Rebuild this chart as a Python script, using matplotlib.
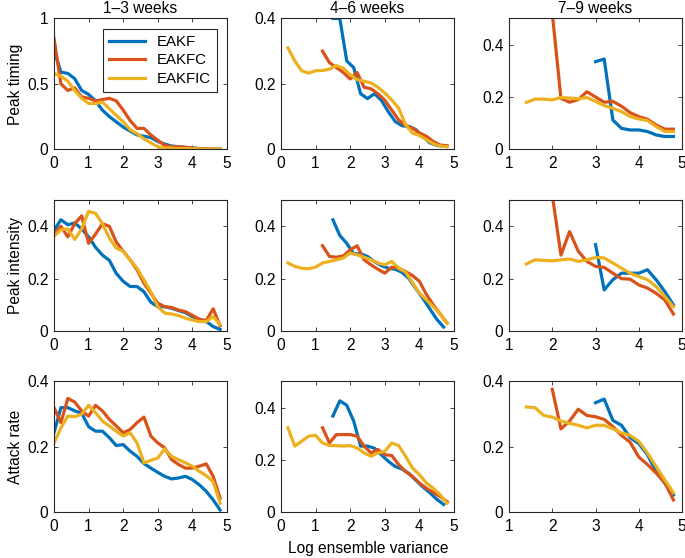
import numpy as np
import matplotlib
matplotlib.use("Agg")
import matplotlib.pyplot as plt
from matplotlib.ticker import FuncFormatter

plt.rcParams['font.family'] = ['Liberation Sans', 'DejaVu Sans']
FS = 11.2
plt.rcParams['font.size'] = FS

BLUE, RED, YELLOW = '#0072BD', '#D95319', '#EDB120'

col_titles = ['1\u20133 weeks', '4\u20136 weeks', '7\u20139 weeks']
row_labels = ['Peak timing', 'Peak intensity', 'Attack rate']
methods = ['EAKF', 'EAKFC', 'EAKFIC']

# x grids (log ensemble variance)
x_c1 = [0.0, 0.2, 0.4, 0.6, 0.8, 1.0, 1.2, 1.4, 1.6, 1.8, 2.0, 2.2, 2.4,
        2.6, 2.8, 3.0, 3.2, 3.4, 3.6, 3.8, 4.0, 4.2, 4.4, 4.6, 4.8]
x_c2_blue = [1.5, 1.7, 1.9, 2.1, 2.3, 2.5, 2.7, 2.9, 3.1, 3.3, 3.5, 3.7,
             3.9, 4.1, 4.3, 4.5, 4.7]
x_c2_red = [1.2, 1.4, 1.6, 1.8, 2.0, 2.2, 2.4, 2.6, 2.8, 3.0, 3.2, 3.4,
            3.6, 3.8, 4.0, 4.2, 4.4, 4.6, 4.8]
x_c2_yel = [0.2, 0.4, 0.6, 0.8, 1.0] + x_c2_red
x_c3_blue = [3.0, 3.2, 3.4, 3.6, 3.8, 4.0, 4.2, 4.4, 4.6, 4.8]
x_c3_red = [2.0, 2.2, 2.4, 2.6, 2.8] + x_c3_blue
x_c3_yel = [1.4, 1.6, 1.8] + x_c3_red

# Peak timing
pt1_blue = [0.76, 0.59, 0.58, 0.54, 0.45, 0.42, 0.37, 0.30, 0.25, 0.21, 0.17, 0.14, 0.11,
            0.10, 0.09, 0.06, 0.04, 0.025, 0.02, 0.015, 0.01, 0.006, 0.004, 0.002, 0.001]
pt1_red = [0.85, 0.50, 0.45, 0.47, 0.40, 0.39, 0.37, 0.38, 0.39, 0.37, 0.30, 0.22, 0.16,
           0.16, 0.11, 0.07, 0.03, 0.02, 0.02, 0.015, 0.01, 0.005, 0.003, 0.002, 0.001]
pt1_yel = [0.58, 0.56, 0.52, 0.45, 0.39, 0.35, 0.35, 0.36, 0.31, 0.26, 0.21, 0.15, 0.12,
           0.08, 0.05, 0.02, 0.01, 0.01, 0.005, 0.005, 0.004, 0.003, 0.002, 0.002, 0.001]
pt2_blue = [0.40, 0.40, 0.27, 0.25, 0.17, 0.155, 0.17, 0.15, 0.115, 0.085, 0.072, 0.07,
            0.06, 0.04, 0.02, 0.012, 0.01]
pt2_red = [0.30, 0.265, 0.25, 0.235, 0.215, 0.235, 0.19, 0.185, 0.17, 0.15, 0.12, 0.09,
           0.072, 0.065, 0.05, 0.04, 0.024, 0.013, 0.011]
pt2_yel = [0.31, 0.27, 0.24, 0.233, 0.24, 0.241, 0.245, 0.256, 0.248, 0.228, 0.213, 0.208,
           0.203, 0.19, 0.172, 0.151, 0.126, 0.075, 0.05, 0.042, 0.03, 0.017, 0.01, 0.008]
pt3_blue = [0.335, 0.345, 0.112, 0.08, 0.074, 0.074, 0.068, 0.055, 0.049, 0.049]
pt3_red = [0.52, 0.195, 0.18, 0.19, 0.22, 0.2, 0.18, 0.183, 0.165, 0.14, 0.125, 0.115,
           0.093, 0.077, 0.077]
pt3_yel = [0.179, 0.192, 0.192, 0.189, 0.198, 0.196, 0.193, 0.198, 0.183, 0.167, 0.157,
           0.144, 0.125, 0.116, 0.11, 0.087, 0.068, 0.068]

# Peak intensity
pi1_blue = [0.385, 0.425, 0.406, 0.413, 0.39, 0.36, 0.32, 0.29, 0.27, 0.22, 0.19, 0.17, 0.17,
            0.15, 0.11, 0.093, 0.093, 0.087, 0.078, 0.07, 0.055, 0.042, 0.036, 0.017, 0.006]
pi1_red = [0.37, 0.40, 0.36, 0.41, 0.44, 0.335, 0.37, 0.41, 0.40, 0.34, 0.305, 0.272, 0.234,
           0.183, 0.144, 0.106, 0.093, 0.09, 0.08, 0.074, 0.06, 0.045, 0.04, 0.085, 0.02]
pi1_yel = [0.362, 0.387, 0.39, 0.35, 0.39, 0.457, 0.45, 0.41, 0.355, 0.317, 0.305, 0.272,
           0.24, 0.195, 0.15, 0.093, 0.068, 0.065, 0.059, 0.049, 0.042, 0.036, 0.036, 0.055, 0.025]
pi2_blue = [0.425, 0.365, 0.335, 0.295, 0.295, 0.285, 0.265, 0.25, 0.24, 0.236, 0.224, 0.2,
            0.162, 0.125, 0.085, 0.045, 0.015]
pi2_red = [0.326, 0.285, 0.282, 0.287, 0.31, 0.326, 0.272, 0.253, 0.236, 0.221, 0.244, 0.24,
           0.227, 0.212, 0.19, 0.14, 0.1, 0.065, 0.03]
pi2_yel = [0.26, 0.247, 0.24, 0.238, 0.244, 0.26, 0.266, 0.272, 0.279, 0.298, 0.291, 0.282,
           0.272, 0.26, 0.253, 0.266, 0.24, 0.225, 0.185, 0.145, 0.119, 0.093, 0.065, 0.03]
pi3_blue = [0.33, 0.157, 0.196, 0.221, 0.221, 0.221, 0.234, 0.196, 0.151, 0.1]
pi3_red = [0.52, 0.29, 0.38, 0.305, 0.266, 0.247, 0.243, 0.221, 0.2, 0.198, 0.176, 0.164,
           0.144, 0.119, 0.065]
pi3_yel = [0.256, 0.272, 0.27, 0.268, 0.272, 0.275, 0.266, 0.272, 0.281, 0.279, 0.26, 0.24,
           0.221, 0.208, 0.196, 0.17, 0.132, 0.093]

# Attack rate
ar1_blue = [0.243, 0.32, 0.32, 0.31, 0.303, 0.262, 0.248, 0.248, 0.228, 0.204, 0.207, 0.187,
            0.171, 0.149, 0.135, 0.122, 0.11, 0.102, 0.105, 0.11, 0.1, 0.084, 0.064, 0.038, 0.007]
ar1_red = [0.32, 0.274, 0.348, 0.337, 0.31, 0.294, 0.327, 0.31, 0.284, 0.264, 0.243, 0.253,
           0.274, 0.291, 0.233, 0.212, 0.197, 0.161, 0.146, 0.135, 0.135, 0.141, 0.148, 0.11, 0.043]
ar1_yel = [0.212, 0.258, 0.294, 0.292, 0.3, 0.327, 0.305, 0.279, 0.264, 0.248, 0.233, 0.243,
           0.212, 0.151, 0.159, 0.166, 0.194, 0.171, 0.161, 0.151, 0.141, 0.125, 0.112, 0.094, 0.028]
ar2_blue = [0.368, 0.426, 0.409, 0.349, 0.253, 0.253, 0.245, 0.22, 0.195, 0.175, 0.165, 0.148,
            0.122, 0.097, 0.075, 0.05, 0.03]
ar2_red = [0.323, 0.265, 0.297, 0.297, 0.297, 0.291, 0.253, 0.227, 0.24, 0.22, 0.217, 0.182,
           0.156, 0.137, 0.112, 0.092, 0.076, 0.06, 0.041]
ar2_yel = [0.323, 0.253, 0.272, 0.291, 0.294, 0.265, 0.255, 0.255, 0.253, 0.255, 0.246, 0.227,
           0.214, 0.227, 0.233, 0.265, 0.255, 0.214, 0.169, 0.144, 0.112, 0.092, 0.067, 0.035]
ar3_blue = [0.335, 0.346, 0.281, 0.266, 0.228, 0.21, 0.176, 0.125, 0.089, 0.053]
ar3_red = [0.376, 0.255, 0.279, 0.315, 0.296, 0.292, 0.284, 0.262, 0.235, 0.214, 0.169, 0.146,
           0.12, 0.091, 0.038]
ar3_yel = [0.322, 0.32, 0.296, 0.291, 0.279, 0.272, 0.266, 0.258, 0.266, 0.266, 0.255, 0.243,
           0.235, 0.217, 0.181, 0.14, 0.099, 0.06]

panels = [
    [(x_c1, pt1_blue, x_c1, pt1_red, x_c1, pt1_yel),
     (x_c2_blue, pt2_blue, x_c2_red, pt2_red, x_c2_yel, pt2_yel),
     (x_c3_blue, pt3_blue, x_c3_red, pt3_red, x_c3_yel, pt3_yel)],
    [(x_c1, pi1_blue, x_c1, pi1_red, x_c1, pi1_yel),
     (x_c2_blue, pi2_blue, x_c2_red, pi2_red, x_c2_yel, pi2_yel),
     (x_c3_blue, pi3_blue, x_c3_red, pi3_red, x_c3_yel, pi3_yel)],
    [(x_c1, ar1_blue, x_c1, ar1_red, x_c1, ar1_yel),
     (x_c2_blue, ar2_blue, x_c2_red, ar2_red, x_c2_yel, ar2_yel),
     (x_c3_blue, ar3_blue, x_c3_red, ar3_red, x_c3_yel, ar3_yel)],
]

ylims = [[1.0, 0.4, 0.5], [0.5, 0.5, 0.5], [0.4, 0.5, 0.4]]
yticks = [[[0, 0.5, 1], [0, 0.2, 0.4], [0, 0.2, 0.4]],
          [[0, 0.2, 0.4]] * 3,
          [[0, 0.2, 0.4]] * 3]
xlims = [(0, 5), (0, 5), (1, 5)]

fig = plt.figure(figsize=(6.85, 5.58), dpi=100)
lefts = [0.0788, 0.4102, 0.7431]
bottoms = [0.7324, 0.4068, 0.0819]
w, h = 0.2526, 0.2345

fmt = FuncFormatter(lambda v, p: '%g' % v)
for r in range(3):
    for c in range(3):
        ax = fig.add_axes([lefts[c], bottoms[r], w, h])
        xb, yb, xr, yr, xy, yy = panels[r][c]
        ax.plot(xb, yb, color=BLUE, lw=2.3, label=methods[0])
        ax.plot(xr, yr, color=RED, lw=2.3, label=methods[1])
        ax.plot(xy, yy, color=YELLOW, lw=2.3, label=methods[2])
        ax.set_xlim(*xlims[c])
        ax.set_ylim(0, ylims[r][c])
        ax.set_yticks(yticks[r][c])
        ax.set_xticks(range(int(xlims[c][0]), 6))
        ax.xaxis.set_major_formatter(fmt)
        ax.yaxis.set_major_formatter(fmt)
        ax.tick_params(direction='in', top=True, right=True, length=3,
                       width=0.6, color='#262626', labelsize=FS)
        ax.tick_params(axis='x', pad=5)
        ax.tick_params(axis='y', pad=4)
        for s in ax.spines.values():
            s.set_linewidth(0.8)
            s.set_color('#262626')
        if r == 0:
            ax.set_title(col_titles[c], fontsize=FS, pad=4)
        if c == 0:
            ax.set_ylabel(row_labels[r], fontsize=FS, labelpad=3)
        if r == 0 and c == 0:
            leg = ax.legend(loc='upper right', fancybox=False, edgecolor='#262626',
                            fontsize=10.8, handlelength=2.4, borderaxespad=0.7,
                            labelspacing=0.3, framealpha=1)
            leg.get_frame().set_linewidth(0.8)

fig.text(0.5383, 0.004, 'Log ensemble variance', ha='center', va='bottom', fontsize=FS)

fig.savefig('out.png', dpi=100)
